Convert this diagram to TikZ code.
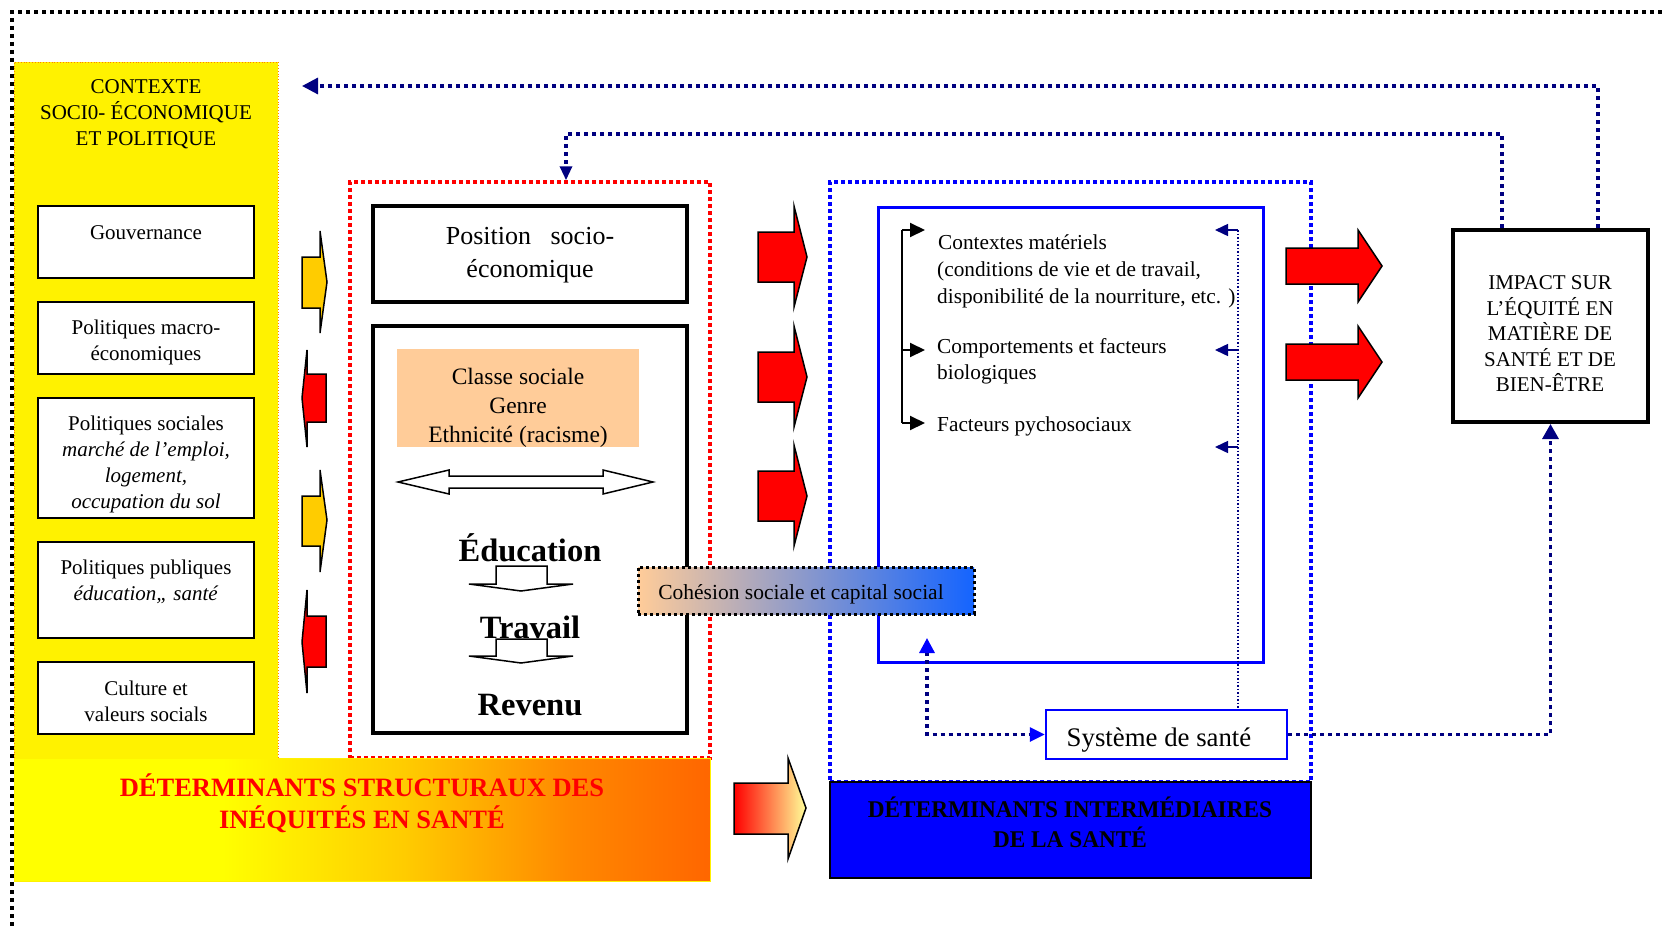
\documentclass[tikz,border=0pt]{standalone}
\usepackage{fontspec}
\setmainfont{Liberation Serif}
\usetikzlibrary{arrows.meta,calc}
\definecolor{navy}{HTML}{000080}
\definecolor{peach}{HTML}{FFCC99}
\definecolor{gold}{HTML}{FFCC00}
\definecolor{orng}{HTML}{FF6600}
\definecolor{bandorange}{HTML}{FF8800}
\definecolor{lyel}{HTML}{FFFF99}
\definecolor{cblue}{HTML}{1464FF}
\definecolor{lav}{HTML}{B8A4D0}
\definecolor{yarrow}{HTML}{FFCC00}
\newcommand\myfs[2]{\fontsize{#1}{#2}\selectfont}
\pgfdeclarehorizontalshading{bandsh}{100bp}{color(0bp)=(yellow); color(40bp)=(yellow); color(53bp)=(gold); color(65bp)=(bandorange); color(75bp)=(orng); color(100bp)=(orng)}
\begin{document}
\begin{tikzpicture}[x=1pt,y=-1pt,
  lbox/.style={draw, line width=2pt, fill=white, inner sep=0pt},
  ltxt/.style={font=\myfs{21}{26}, align=center, inner sep=0pt},
  btxt/.style={font=\myfs{21.3}{26}, align=left, inner sep=0pt, anchor=west},
  thickdot/.style={draw=navy, line width=3.2pt, dash pattern=on 4pt off 4pt},
  shp/.style={draw=black, line width=1.5pt, line join=miter},
  reddot/.style={draw=red, line width=3.5pt, dash pattern=on 4pt off 3pt, inner sep=0pt},
  bluedot/.style={draw=blue, line width=3.5pt, dash pattern=on 4pt off 3pt, inner sep=0pt},
  bigtxt/.style={font=\bfseries\myfs{32.5}{32.5}, anchor=base, inner sep=0pt}
]
\useasboundingbox (0,0) rectangle (1662,926);
% outer border
\draw[line width=3.2pt, dash pattern=on 4pt off 4pt] (1662,12) -- (12,12) -- (12,926);

% yellow column
\fill[yellow] (14,62) rectangle (278,758);
\draw[orange, line width=0.8pt, dotted] (14,758) -- (14,62) -- (278,62) -- (278,758);

% dotted group boxes
\node[reddot, minimum width=360pt, minimum height=576pt] (redbox) at (530,470) {};
\node[bluedot, minimum width=481pt, minimum height=600pt] (bluebox) at (1070.5,482) {};

% bottom band
\shade[shading=bandsh, draw=yellow, line width=1pt] (14,758) rectangle (710,881);
\node[font=\bfseries\myfs{26.5}{32}, text=red, align=center, inner sep=0pt] (bandT) at (362,803) {DÉTERMINANTS STRUCTURAUX DES\\INÉQUITÉS EN SANTÉ};

% intermediate label
\node[draw=black, line width=1.2pt, fill=blue, minimum width=481pt, minimum height=96pt, inner sep=0pt] (interm) at (1070.5,830) {};
\node[font=\bfseries\myfs{24}{29.5}, align=center, inner sep=0pt] (intT) at (1070,822.5) {\scalebox{0.97}[1]{DÉTERMINANTS INTERMÉDIAIRES}\\\scalebox{0.97}[1]{DE LA SANTÉ}};

% context column
\node[ltxt] (ctx) at (146,114) {CONTEXTE\\SOCI0- ÉCONOMIQUE\\ET POLITIQUE};
\node[lbox, minimum width=216pt, minimum height=72pt] (gouv) at (146,242) {};
\node[ltxt] (gouvT) at (146,232.5) {Gouvernance};
\node[lbox, minimum width=216pt, minimum height=72pt] (macro) at (146,338) {};
\node[ltxt] (macroT) at (146,342) {Politiques macro-\\économiques};
\node[lbox, minimum width=216pt, minimum height=120pt] (soc) at (146,458) {};
\node[ltxt] (socT) at (146,464) {Politiques sociales\\\textit{marché de l’emploi,}\\\textit{logement,}\\\textit{occupation du sol}};
\node[lbox, minimum width=216pt, minimum height=96pt] (pub) at (146,590) {};
\node[ltxt] (pubT) at (146,582) {Politiques publiques\\\textit{éducation,, santé}};
\node[lbox, minimum width=216pt, minimum height=72pt] (cult) at (146,698) {};
\node[ltxt] (cultT) at (146,701) {Culture et\\valeurs socials};

% small arrows between column and red box
\path[shp, fill=yarrow] (302,257) -- (320,257) -- (320,231) -- (327,282) -- (320,333) -- (320,308) -- (302,308) -- cycle;
\path[shp, fill=red] (326,374) -- (307,374) -- (307,350) -- (302,398) -- (307,447) -- (307,422) -- (326,422) -- cycle;
\path[shp, fill=yarrow] (302,496) -- (320,496) -- (320,470) -- (327,520) -- (320,572) -- (320,546) -- (302,546) -- cycle;
\path[shp, fill=red] (326,616) -- (307,616) -- (307,590) -- (302,642) -- (307,693) -- (307,667) -- (326,667) -- cycle;

% socio-economic position
\node[draw, line width=3.5pt, minimum width=314pt, minimum height=96pt, inner sep=0pt] (pos) at (530,254) {};
\node[font=\myfs{26}{33}, align=center, inner sep=0pt] (posT) at (530,255) {Position\hspace{0.5em} socio-\\économique};
\node[draw, line width=3.5pt, minimum width=314pt, minimum height=407pt, inner sep=0pt] (big) at (530,529.5) {};
\node[fill=peach, minimum width=242pt, minimum height=98pt, inner sep=0pt] (peachbox) at (518,398) {};
\node[font=\myfs{23.5}{29}, align=center, inner sep=0pt] (peachT) at (518,407.5) {Classe sociale\\Genre\\Ethnicité (racisme)};
\path[shp, fill=white] (398,482) -- (449,470) -- (449,476) -- (603,476) -- (603,470) -- (653,482) -- (603,494) -- (603,488) -- (449,488) -- (449,494) -- cycle;
\node[bigtxt] (edu) at (530,561) {Éducation};
\node[bigtxt] (trav) at (530,638) {Travail};
\node[bigtxt] (rev) at (530,715) {Revenu};
\path[shp, fill=white] (496,566) -- (547,566) -- (547,584) -- (573,584) -- (521,591) -- (469,584) -- (496,584) -- cycle;
\path[shp, fill=white] (496,639) -- (547,639) -- (547,656) -- (573,656) -- (521,663) -- (469,656) -- (496,656) -- cycle;

% big red arrows (middle)
\foreach \dy in {0,120,239}{
  \path[shp, fill=red] (758,232+\dy) -- (794,232+\dy) -- (794,206+\dy) -- (807,257+\dy) -- (794,307+\dy) -- (794,282+\dy) -- (758,282+\dy) -- cycle;
}
% gradient arrow (bottom)
\shade[shp, left color=red, right color=lyel] (734,783) -- (788,783) -- (788,758) -- (806,808) -- (788,859) -- (788,834) -- (734,834) -- cycle;

% inner blue box
\node[draw=blue, line width=3pt, minimum width=385pt, minimum height=455pt, inner sep=0pt] (inner) at (1070.5,434.5) {};
\node[btxt] (cm) at (938,242) {Contextes matériels};
\node[btxt, font=\myfs{21.3}{27}] (cc) at (937,284.5) {(conditions de vie et de travail,\\disponibilité de la nourriture, etc. )};
\node[btxt] (cb) at (937,361.5) {Comportements et facteurs\\biologiques};
\node[btxt] (fp) at (937,426) {Facteurs pychosociaux};
\coordinate (a1) at (925,230);
\coordinate (a2) at (925,350);
\coordinate (a3) at (925,423);
\draw[line width=2pt] (902,230) -- (902,423);
\foreach \a in {a1,a2,a3}{
  \draw[line width=2pt, -{Triangle[length=15pt,width=14pt]}] (902,0 |- \a) -- (\a);
}

% health system
\node[draw=blue, line width=2.5pt, fill=white, minimum width=241pt, minimum height=49pt, inner sep=0pt] (sys) at (1166.5,734.5) {};
\node[font=\myfs{26.8}{30}, inner sep=0pt] (sysT) at (1159,740) {Système de santé};
\coordinate (r1) at (1238,230);
\coordinate (r2) at (1238,350);
\coordinate (r3) at (1238,447);
\draw[navy, line width=1.5pt, dotted] (r1) -- (r1 |- sys.north);
\foreach \r in {r1,r2,r3}{
  \draw[navy, line width=1.5pt, -{Triangle[length=13pt,width=12pt]}] (\r) -- ++(-23,0);
}

% right red arrows
\foreach \dy in {0,96}{
  \path[shp, fill=red] (1286,248+\dy) -- (1358,248+\dy) -- (1358,230+\dy) -- (1382,266+\dy) -- (1358,302+\dy) -- (1358,284+\dy) -- (1286,284+\dy) -- cycle;
}

% impact box
\node[draw, line width=4pt, minimum width=195pt, minimum height=192pt, inner sep=0pt] (impact) at (1550.5,326) {};
\node[ltxt, font=\myfs{21}{25.5}] (impT) at (1550,334) {IMPACT SUR\\L’ÉQUITÉ EN\\MATIÈRE DE\\SANTÉ ET DE\\BIEN-ÊTRE};

% cohesion box
\node[draw=black, line width=3pt, dash pattern=on 3pt off 3pt, left color=peach, middle color=lav, right color=cblue, minimum width=336pt, minimum height=47pt, inner sep=0pt] (coh) at (806,590.5) {};
\node[font=\myfs{21.5}{26}, inner sep=0pt] (cohT) at (801,594) {Cohésion sociale et capital social};

% connectors
\coordinate (upT) at (927,638);
\draw[thickdot, {Triangle[length=15pt,width=15pt,color=blue]}-{Triangle[length=15pt,width=14pt,color=blue]}] (upT) |- (sys.west);
\draw[thickdot, -{Triangle[length=15pt,width=16pt]}] (sys.east) -| (impact.south);
\coordinate (tipA) at (302,86);
\draw[thickdot, -{Triangle[length=16pt,width=16pt]}] ([xshift=47.5pt]impact.north) |- (tipA);
\coordinate (elbow) at (566,134);
\draw[thickdot, -{Triangle[length=14pt,width=12pt]}] ([xshift=-48.5pt]impact.north) |- (elbow) -- (elbow |- redbox.north);
\end{tikzpicture}
\end{document}
